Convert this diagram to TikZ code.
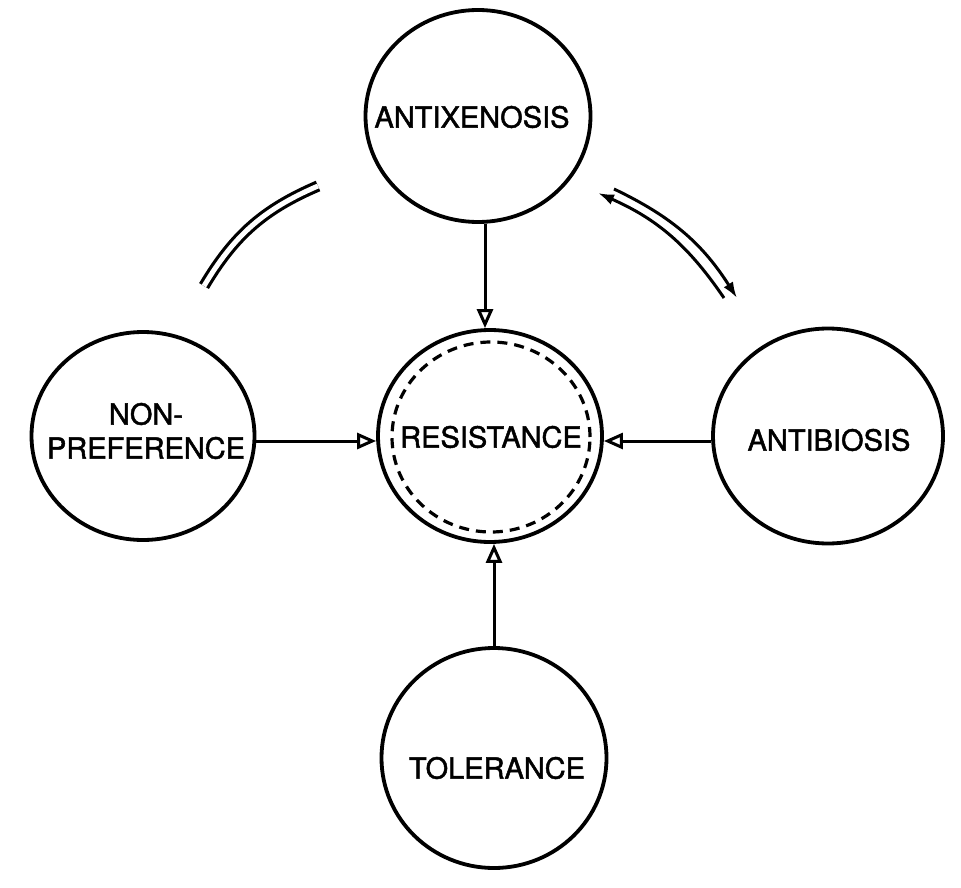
\documentclass[tikz,border=0pt]{standalone}
\usepackage{fontspec}
\setmainfont{TeX Gyre Heros}
\newfontfamily\lblfont{TeX Gyre Heros}[FakeBold=1.6]
\usetikzlibrary{shapes.geometric,arrows.meta,calc}
\begin{document}
\begin{tikzpicture}[x=1pt,y=1pt,
  bubble/.style={ellipse,draw=black,line width=3.8pt,inner sep=0pt},
  lbl/.style={font=\lblfont\fontsize{29}{34}\selectfont,align=center,inner sep=0pt},
  arr/.style={line width=3pt,-{Triangle[open,length=19pt,width=16pt,line width=3pt]}},
  barr/.style={line width=3pt,-{Latex[length=16pt,width=11pt]}},
  dbl/.style={line width=3.2pt,double=white,double distance=5pt}
]
\useasboundingbox (0,0) rectangle (961,-888);
\fill[white] (0,0) rectangle (961,-888);

% circles
\node[bubble,minimum width=225pt,minimum height=212pt] (anti) at (478,-116) {};
\node[bubble,minimum width=224pt,minimum height=212pt] (res) at (490,-436) {};
\node[ellipse,draw=black,line width=3.2pt,dash pattern=on 10pt off 7pt,minimum width=198pt,minimum height=190pt,inner sep=0pt] (resin) at (491,-437) {};
\node[bubble,minimum width=223pt,minimum height=208pt] (nonp) at (143,-436) {};
\node[bubble,minimum width=230pt,minimum height=215pt] (antib) at (828,-436) {};
\node[bubble,minimum width=225pt,minimum height=220pt] (tol) at (494,-758) {};

% labels
\node[lbl] (tanti) at (472,-117) {ANTIXENOSIS};
\node[lbl] (tres) at (491,-437) {RESISTANCE};
\node[lbl] (tnonp) at (146,-431) {NON-\\PREFERENCE};
\node[lbl] (tantib) at (829,-440) {ANTIBIOSIS};
\node[lbl] (ttol) at (497,-768) {TOLERANCE};

% arrows into resistance
\draw[arr] ($(anti.south)+(7,0)$) -- ($(anti.south |- res.north)+(7,0)$);
\draw[arr] ($(nonp.east)+(0,-5)$) -- ($(nonp.east -| res.west)+(0,-5)$);
\draw[arr] ($(antib.west)+(0,-5)$) -- ($(antib.west -| res.east)+(0,-5)$);
\draw[arr] (tol.north) -- (tol.north |- res.south);

% double arcs
\coordinate (l1) at (204,-286);
\coordinate (l2) at (318,-186);
\draw[dbl] (l1) to[bend left=18] (l2);

\coordinate (ra1) at (614,-189);
\coordinate (ra2) at (737,-298);
\coordinate (rb1) at (724,-298);
\coordinate (rb2) at (598,-193);
\draw[barr] (ra1) to[bend left=16] (ra2);
\draw[barr] (rb1) to[bend right=16] (rb2);
\end{tikzpicture}
\end{document}
